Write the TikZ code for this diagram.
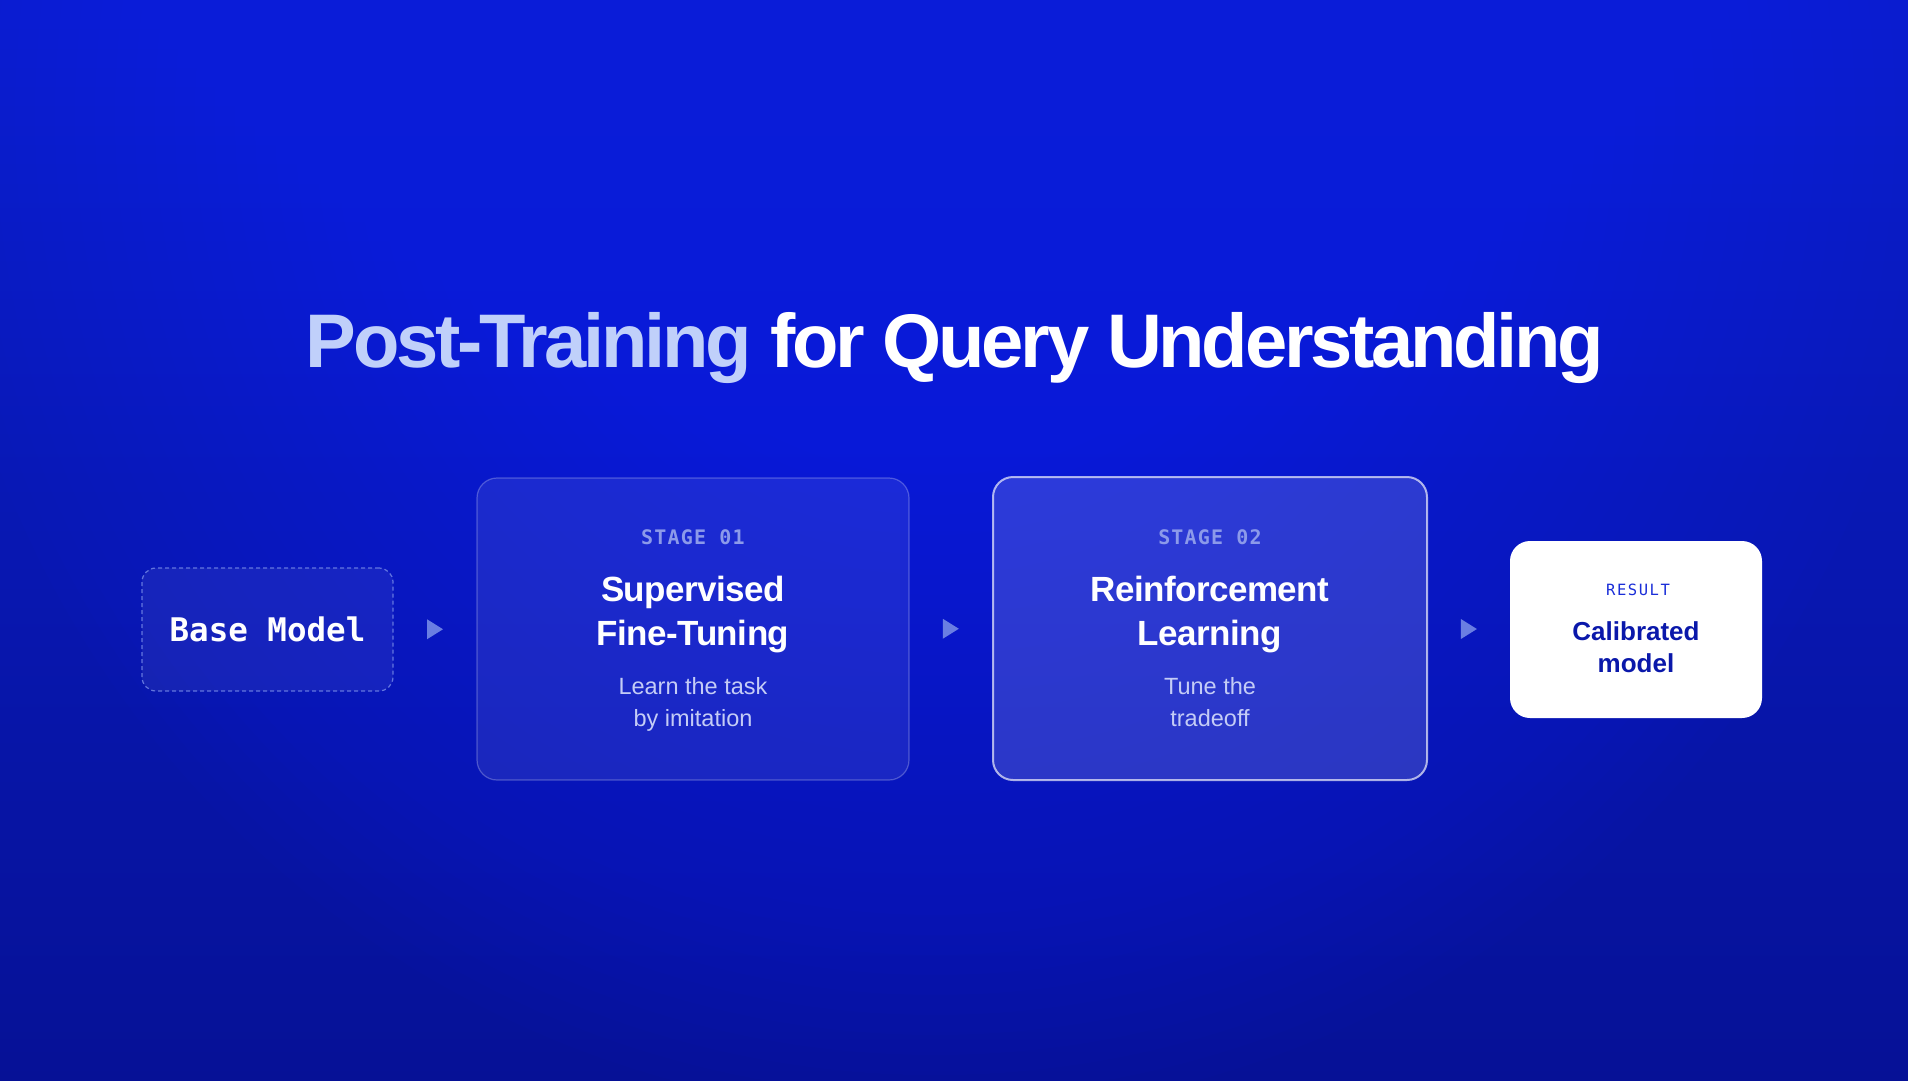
\documentclass[tikz,border=0pt]{standalone}
\usepackage{fontspec}
\setmainfont{Liberation Sans}
\newfontfamily\monof{DejaVu Sans Mono}
\usetikzlibrary{calc}
\definecolor{bgtop}{RGB}{10,30,206}
\definecolor{bgbot}{RGB}{6,17,150}
\definecolor{glowc}{RGB}{12,28,252}
\definecolor{titlelight}{RGB}{192,208,250}
\definecolor{stagelbl}{RGB}{140,154,234}
\definecolor{subtxt}{RGB}{196,204,246}
\definecolor{arrowc}{RGB}{106,126,226}
\definecolor{resultlbl}{RGB}{26,46,216}
\definecolor{resultttl}{RGB}{10,24,170}
\definecolor{dashc}{RGB}{120,140,232}
\newcommand\titlefnt{\fontsize{76}{80}\selectfont\bfseries\addfontfeature{LetterSpace=-4.3}}
\newcommand\headfnt{\fontsize{35}{42}\selectfont\bfseries\addfontfeature{LetterSpace=-1.5}}
\newcommand\subfnt{\fontsize{23.5}{28}\selectfont}
\newcommand\stagefnt{\monof\fontsize{20}{24}\selectfont\bfseries\addfontfeature{LetterSpace=6}}
\newcommand\basefnt{\monof\fontsize{32.5}{38}\selectfont\bfseries}
\newcommand\resfnt{\monof\fontsize{15.5}{18}\selectfont\addfontfeature{LetterSpace=10}}
\newcommand\calfnt{\fontsize{26}{30}\selectfont\bfseries}
\begin{document}
\begin{tikzpicture}[x=1pt,y=-1pt,
  card/.style={rectangle,inner sep=0pt},
  basebox/.style={card,rounded corners=14pt,fill=white,fill opacity=0.06,draw=dashc,draw opacity=0.8,line width=1.2pt,dash pattern=on 4pt off 3pt},
  stageone/.style={card,rounded corners=20pt,fill=white,fill opacity=0.08,draw=white,draw opacity=0.25,line width=1.2pt},
  stagetwo/.style={card,rounded corners=20pt,fill=white,fill opacity=0.15,draw=white,draw opacity=0.65,line width=2pt},
  resbox/.style={card,rounded corners=20pt,fill=white},
  lbl/.style={anchor=base,inner sep=0pt,text opacity=1},
  tri/.style={fill=arrowc}]
\useasboundingbox (0,0) rectangle (1908,1080);
\shade[top color=bgtop,bottom color=bgbot] (0,0) rectangle (1908,1080);
\begin{scope}
\clip (0,0) rectangle (1908,1080);
\foreach \k in {1,...,50}{
  \fill[glowc,fill opacity=0.026] (935,115) circle ({20*\k*1pt});
}
\end{scope}

% title
\node[lbl,text=white,font=\titlefnt] (title) at (955,367) {\textcolor{titlelight}{Post-Training} for Query Understanding};

% boxes
\node[basebox,minimum width=251pt,minimum height=123pt] (base) at (267.5,629.5) {};
\node[stageone,minimum width=432pt,minimum height=302pt] (s1) at (693,629) {};
\node[stagetwo,minimum width=434pt,minimum height=303pt] (s2) at (1210,628.5) {};
\node[resbox,minimum width=252pt,minimum height=177pt] (res) at (1636,629.5) {};

% base text
\node[lbl,text=white,font=\basefnt] (basetxt) at (267.5,641) {Base Model};

% stage 1 texts
\node[lbl,text=stagelbl,font=\stagefnt] (s1lbl) at (693,544) {STAGE 01};
\node[lbl,text=white,font=\headfnt] (s1h1) at (693,601) {Supervised};
\node[lbl,text=white,font=\headfnt] (s1h2) at (693,645) {Fine-Tuning};
\node[lbl,text=subtxt,font=\subfnt] (s1d1) at (693,694) {Learn the task};
\node[lbl,text=subtxt,font=\subfnt] (s1d2) at (693,726) {by imitation};

% stage 2 texts
\node[lbl,text=stagelbl,font=\stagefnt] (s2lbl) at (1210,544) {STAGE 02};
\node[lbl,text=white,font=\headfnt] (s2h1) at (1210,601) {Reinforcement};
\node[lbl,text=white,font=\headfnt] (s2h2) at (1210,645) {Learning};
\node[lbl,text=subtxt,font=\subfnt] (s2d1) at (1210,694) {Tune the};
\node[lbl,text=subtxt,font=\subfnt] (s2d2) at (1210,726) {tradeoff};

% result texts
\node[lbl,text=resultlbl,font=\resfnt] (reslbl) at (1638,595) {RESULT};
\node[lbl,text=resultttl,font=\calfnt] (resh1) at (1636,640) {Calibrated};
\node[lbl,text=resultttl,font=\calfnt] (resh2) at (1636,672) {model};

% arrows
\coordinate (a1) at ($(base.east)!0.5!(s1.west)$);
\coordinate (a2) at ($(s1.east)!0.5!(s2.west)$);
\coordinate (a3) at ($(s2.east)!0.5!(res.west)$);
\foreach \a in {a1,a2,a3}{
  \fill[tri] ($(\a)+(-8,-10)$) -- ($(\a)+(8,0)$) -- ($(\a)+(-8,10)$) -- cycle;
}
\end{tikzpicture}
\end{document}
